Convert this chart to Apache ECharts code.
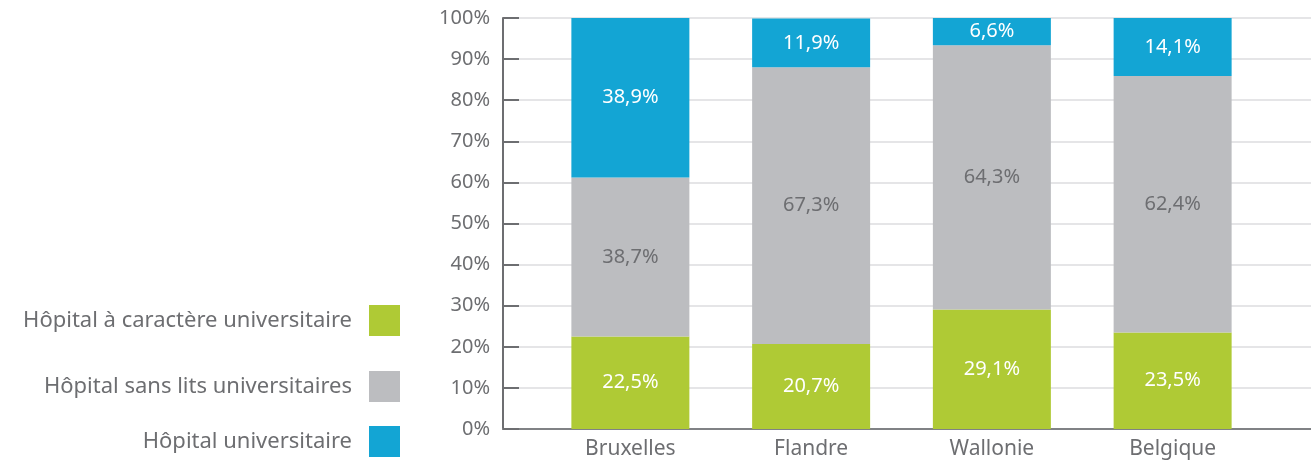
<!DOCTYPE html>
<html>
<head>
<meta charset="utf-8">
<script src="https://cdn.jsdelivr.net/npm/echarts@6/dist/echarts.min.js"></script>
<style>
    html, body { margin: 0; padding: 0; background: #fff; }
    #chart { width: 1311px; height: 466px; }
</style>
</head>
<body>
<div id="chart"></div>
<script>
var regions = ['Bruxelles', 'Flandre', 'Wallonie', 'Belgique'];
var seriesNames = ['Hôpital à caractère universitaire', 'Hôpital sans lits universitaires', 'Hôpital universitaire'];
var caractere = [22.5, 20.7, 29.1, 23.5];
var sansLits = [38.7, 67.3, 64.3, 62.4];
var universitaire = [38.9, 11.9, 6.6, 14.1];
var yTicks = [0, 100, 10];

var colors = ['#afca35', '#bcbdc0', '#13a5d4'];
var labelColors = ['#ffffff', '#6d6e71', '#ffffff'];
var font = 'Noto Sans';
var textGrey = '#6d6e71';

var chart = echarts.init(document.getElementById('chart'));

function pct(p) {
    return p.value.toFixed(1).replace('.', ',') + '%';
}

function makeSeries(i, data) {
    return {
        name: seriesNames[i],
        type: 'bar',
        stack: 'total',
        xAxisIndex: 1,
        yAxisIndex: 1,
        barWidth: 118,
        data: data,
        itemStyle: { color: colors[i] },
        label: {
            show: true,
            position: 'inside',
            color: labelColors[i],
            fontFamily: font,
            fontSize: 20,
            formatter: pct
        }
    };
}

function makeLegend(i, top) {
    return {
        data: [seriesNames[i]],
        right: 911,
        top: top,
        padding: 0,
        orient: 'vertical',
        align: 'right',
        itemWidth: 31,
        itemHeight: 31,
        icon: 'rect',
        selectedMode: false,
        textStyle: {
            color: textGrey,
            fontFamily: font,
            fontSize: 22,
            padding: [2, 12, 0, 0]
        }
    };
}

var opt = {
    animation: false,
    legend: [makeLegend(0, 305), makeLegend(1, 371), makeLegend(2, 426)],
    grid: [
        // frame: y axis, gridlines and baseline running to the right edge
        { left: 503, right: 0, top: 18, bottom: 37 },
        // bars
        { left: 540, width: 723, top: 18, bottom: 37 }
    ],
    xAxis: [
        {
            gridIndex: 0,
            type: 'value',
            min: 0,
            max: 1,
            axisLine: { show: true, onZero: false, lineStyle: { color: '#808285', width: 2 } },
            axisTick: { show: false },
            axisLabel: { show: false },
            splitLine: { show: false }
        },
        {
            gridIndex: 1,
            type: 'category',
            data: regions,
            axisLine: { show: false },
            axisTick: { show: false },
            axisLabel: { color: textGrey, fontFamily: font, fontSize: 21, margin: 10 }
        }
    ],
    yAxis: [
        {
            gridIndex: 0,
            type: 'value',
            min: yTicks[0],
            max: yTicks[1],
            interval: yTicks[2],
            axisLine: { show: true, lineStyle: { color: '#6d6e71', width: 2 } },
            axisTick: { show: true, inside: true, length: 16, lineStyle: { color: '#6d6e71', width: 2 } },
            axisLabel: { color: textGrey, fontFamily: font, fontSize: 20, margin: 13, formatter: '{value}%' },
            splitLine: { show: true, lineStyle: { color: '#dcdddf', width: 1.5 } }
        },
        {
            gridIndex: 1,
            type: 'value',
            min: yTicks[0],
            max: yTicks[1],
            show: false
        }
    ],
    series: [
        makeSeries(0, caractere),
        makeSeries(1, sansLits),
        makeSeries(2, universitaire)
    ]
};

chart.setOption(opt, true);
</script>
</body>
</html>
